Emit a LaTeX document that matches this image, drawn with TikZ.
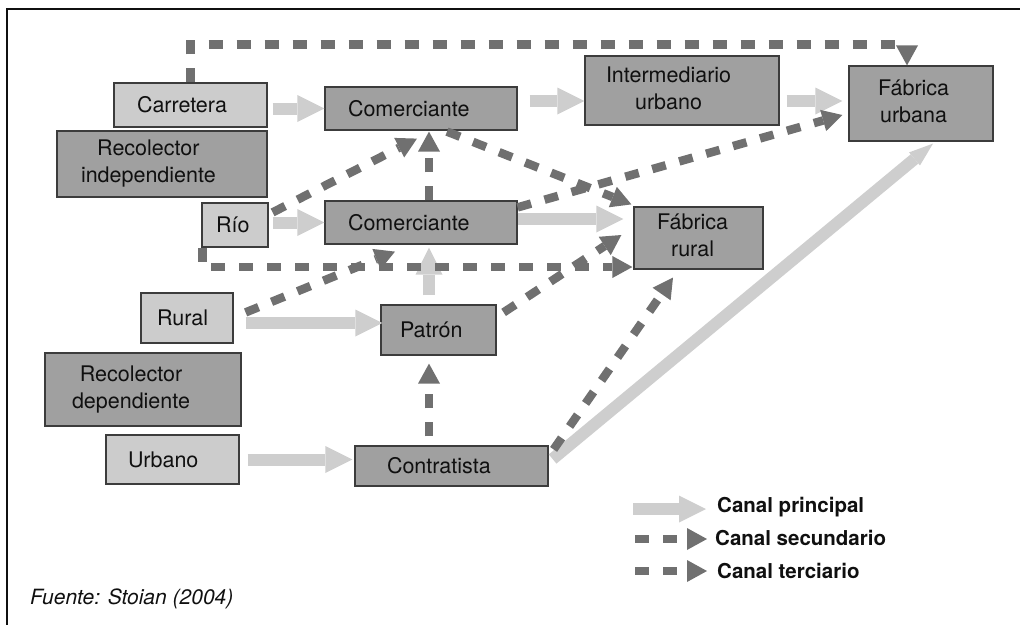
\documentclass[tikz,border=0pt]{standalone}
\usepackage{fontspec}
\setmainfont{TeX Gyre Heros}
\usepackage{tikz}
\usetikzlibrary{arrows.meta}
\usepackage{xcolor}
\definecolor{BoxLight}{RGB}{204,204,204}
\definecolor{BoxDark}{RGB}{160,160,160}
\definecolor{BoxLine}{RGB}{60,60,60}
\definecolor{ArrLight}{RGB}{206,206,206}
\definecolor{ArrDark}{RGB}{112,112,112}
\definecolor{TxtBlack}{RGB}{16,16,16}
\newcommand{\twolines}[2]{\begin{tabular}{@{}c@{}}#1\\#2\end{tabular}}

\begin{document}
\begin{tikzpicture}[x=1pt,y=-1pt,
  font=\fontsize{21.5}{27}\selectfont,text=TxtBlack,
  lbox/.style={draw=BoxLine,fill=BoxLight,line width=1.2pt,inner ysep=0pt,align=left},
  dbox/.style={draw=BoxLine,fill=BoxDark,line width=1.2pt,inner ysep=0pt,align=left},
  principal/.style={draw=ArrLight,line width=12pt,
                    -{Triangle[length=27pt,width=27pt,line width=0pt]}},
  secondary/.style={draw=ArrDark,line width=8.5pt,dash pattern=on 14pt off 14pt,
                    -{Triangle[length=20pt,width=22pt,line width=0pt]}},
  legend/.style={anchor=base west,inner sep=0pt,font=\fontsize{20.5}{25}\selectfont\bfseries},
]
\useasboundingbox (0,0) rectangle (1020,624);
\draw[line width=2.2pt,draw=TxtBlack] (7,626) -- (7,8.7) -- (1022,8.7);

\node[lbox,text width=107pt,inner xsep=23pt,minimum height=44pt] (carretera) at (190.5,105) {Carretera};
\node[dbox,text width=146pt,inner xsep=23pt,minimum height=43pt] (com1) at (421,108.5) {Comerciante};
\node[dbox,text width=162pt,inner xsep=24pt,minimum height=66pt] (recind) at (162,164) {\twolines{Recolector}{independiente}};
\node[lbox,text width=38pt,inner xsep=14pt,minimum height=44pt] (rio) at (235,225) {Río};
\node[dbox,text width=146pt,inner xsep=23pt,minimum height=43pt] (com2) at (421,222.5) {Comerciante};
\node[lbox,text width=60pt,inner xsep=16pt,minimum height=50pt] (rural) at (187,318) {Rural};
\node[dbox,text width=77pt,inner xsep=19pt,minimum height=50pt] (patron) at (438.5,330) {Patrón};
\node[dbox,text width=142pt,inner xsep=27pt,minimum height=73pt] (recdep) at (143,389.5) {\twolines{Recolector}{dependiente}};
\node[lbox,text width=89pt,inner xsep=22pt,minimum height=49pt] (urbano) at (172.5,459.5) {Urbano};
\node[dbox,text width=129pt,inner xsep=32pt,minimum height=40pt] (contr) at (451.5,466) {Contratista};
\node[dbox,text width=152pt,inner xsep=21pt,minimum height=69pt] (interm) at (682,90.5) {\twolines{Intermediario}{urbano}};
\node[dbox,text width=86pt,inner xsep=29pt,minimum height=75pt] (fabu) at (921,103.5) {\twolines{Fábrica}{urbana}};
\node[dbox,text width=83pt,inner xsep=23pt,minimum height=62pt] (fabr) at (698.5,238) {\twolines{Fábrica}{rural}};

\draw[principal] ([shift={(5,3.5)}]carretera.east) -- (com1.west);
\draw[principal] ([shift={(4,-2.5)}]rio.east) -- (com2.west);
\draw[principal] ([shift={(12,-7.5)}]com1.east) -- ([shift={(0,10.5)}]interm.west);
\draw[principal] ([shift={(7,10.5)}]interm.east) -- ([shift={(-6,-2.5)}]fabu.west);
\draw[principal] ([shift={(0,-3.5)}]com2.east) -- ([shift={(-10,-19)}]fabr.west);
\draw[principal] ([shift={(-9.5,-9)}]patron.north) -- ([shift={(8,3)}]com2.south);
\draw[principal] ([shift={(12,5)}]rural.east) -- ([shift={(2,-7)}]patron.west);
\draw[principal] ([shift={(8,0)}]urbano.east) -- ([shift={(-2,-6.5)}]contr.west);
\draw[draw=ArrLight,line width=12pt,-{Triangle[length=24pt,width=17pt,line width=0pt]}]
  ([shift={(4,-7)}]contr.east) -- ([shift={(12,2)}]fabu.south);

\draw[secondary] (carretera.north) -- ++(0,-38) -| ([shift={(-14,0)}]fabu.north);
\draw[secondary] ([shift={(4,10)}]rio.north east) -- ([shift={(-4,8)}]com1.south);
\draw[secondary] ([shift={(8,0)}]com2.north) -- ([shift={(8,1)}]com1.south);
\draw[secondary] ([shift={(26,1)}]com1.south) -- ([shift={(-2,-2)}]fabr.north west);
\draw[secondary] ([shift={(0,7)}]com2.north east) -- ([shift={(-6,11.5)}]fabu.west);
\draw[secondary] ([shift={(1,0)}]rio.south west) |- ([shift={(-1,29)}]fabr.west);
\draw[secondary] ([shift={(12,20)}]rural.north east) -- ([shift={(-26,7)}]com2.south);
\draw[secondary] ([shift={(7,8)}]patron.north east) -- ([shift={(-12,-3)}]fabr.west);
\draw[secondary] ([shift={(-22.5,-9)}]contr.north) -- ([shift={(-9.5,8)}]patron.south);
\draw[secondary] ([shift={(5,4)}]contr.north east) -- ([shift={(-25.5,8)}]fabr.south);

\node[legend] (legp) at (717,512) {Canal principal};
\node[legend] (legs) at (715,545) {Canal secundario};
\node[legend] (legt) at (717,578) {Canal terciario};
\draw[principal] ([shift={(-84,-3)}]legp.base west) -- ([shift={(-11,-3)}]legp.base west);
\draw[secondary] ([shift={(-80,-6)}]legs.base west) -- ([shift={(-8,-6)}]legs.base west);
\draw[secondary] ([shift={(-82,-7)}]legt.base west) -- ([shift={(-10,-7)}]legt.base west);

\node[legend,font=\fontsize{21}{25}\selectfont\mdseries\itshape] (fuente) at (30,604) {Fuente: Stoian (2004)};
\end{tikzpicture}
\end{document}
